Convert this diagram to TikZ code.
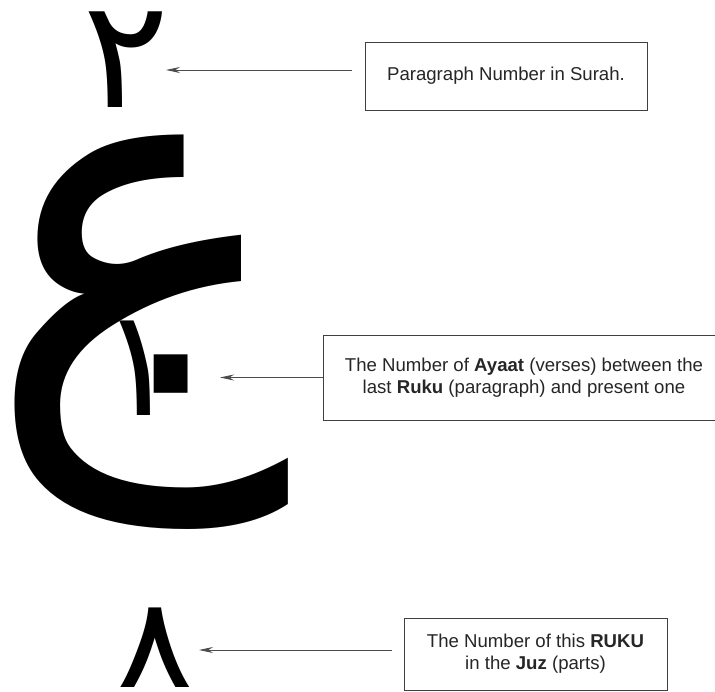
\documentclass[tikz,border=0pt]{standalone}
\usepackage{fontspec}
\setmainfont{Liberation Sans}
\newfontfamily\arabicfont[Script=Arabic]{DejaVu Sans}
\usetikzlibrary{arrows.meta}
\begin{document}
\begin{tikzpicture}[x=1pt,y=-1pt,
  box/.style={draw=black!75, line width=0.9pt, inner sep=0pt, align=center,
    font=\fontsize{18.6}{22}\selectfont, text=black!85},
  arr/.style={draw=black!70, line width=0.9pt, -{Stealth[length=14pt,width=6pt]}},
  glyph/.style={inner sep=0pt, outer sep=0pt, text=black, anchor=base west}]
\fill[white] (0,0) rectangle (715,692);
\clip (0,0) rectangle (715,692);
% Arabic glyphs
\node[glyph] (two) at (82,108) {\scalebox{1.25}[1.16]{\arabicfont\fontsize{130}{130}\selectfont ٢}};
\node[glyph] (ain) at (12,403.6) {\arabicfont\fontsize{516}{516}\selectfont\kern-26.6pt ع};
\node[glyph] (ten) at (99,416) {\arabicfont{\fontsize{149}{149}\selectfont ١}\kern-92.4pt\raisebox{-47pt}{\fontsize{315}{315}\selectfont ٠}};
\node[glyph] (eight) at (116,687) {\scalebox{1.31}[1.14]{\arabicfont\fontsize{110}{110}\selectfont ٨}};
% boxes
\node[box, minimum width=282pt, minimum height=68pt] (b1) at (506,76) {Paragraph Number in Surah.};
\node[box, minimum width=402pt, minimum height=85pt] (b2) at (524,377.5)
  {The Number of \textbf{Ayaat} (verses) between the\\ last \textbf{Ruku} (paragraph) and present one};
\node[box, minimum width=263pt, minimum height=72pt] (b3) at (535.5,654)
  {The Number of this \textbf{RUKU}\\ in the \textbf{Juz} (parts)};
% arrows
\coordinate (t1) at (166,70);
\coordinate (t2) at (220,377.5);
\coordinate (t3) at (199,650);
\draw[arr, shorten <=13pt] ([yshift=6pt]b1.west) -- (t1);
\draw[arr] (b2.west) -- (t2);
\draw[arr, shorten <=12pt] ([yshift=4pt]b3.west) -- (t3);
\end{tikzpicture}
\end{document}
